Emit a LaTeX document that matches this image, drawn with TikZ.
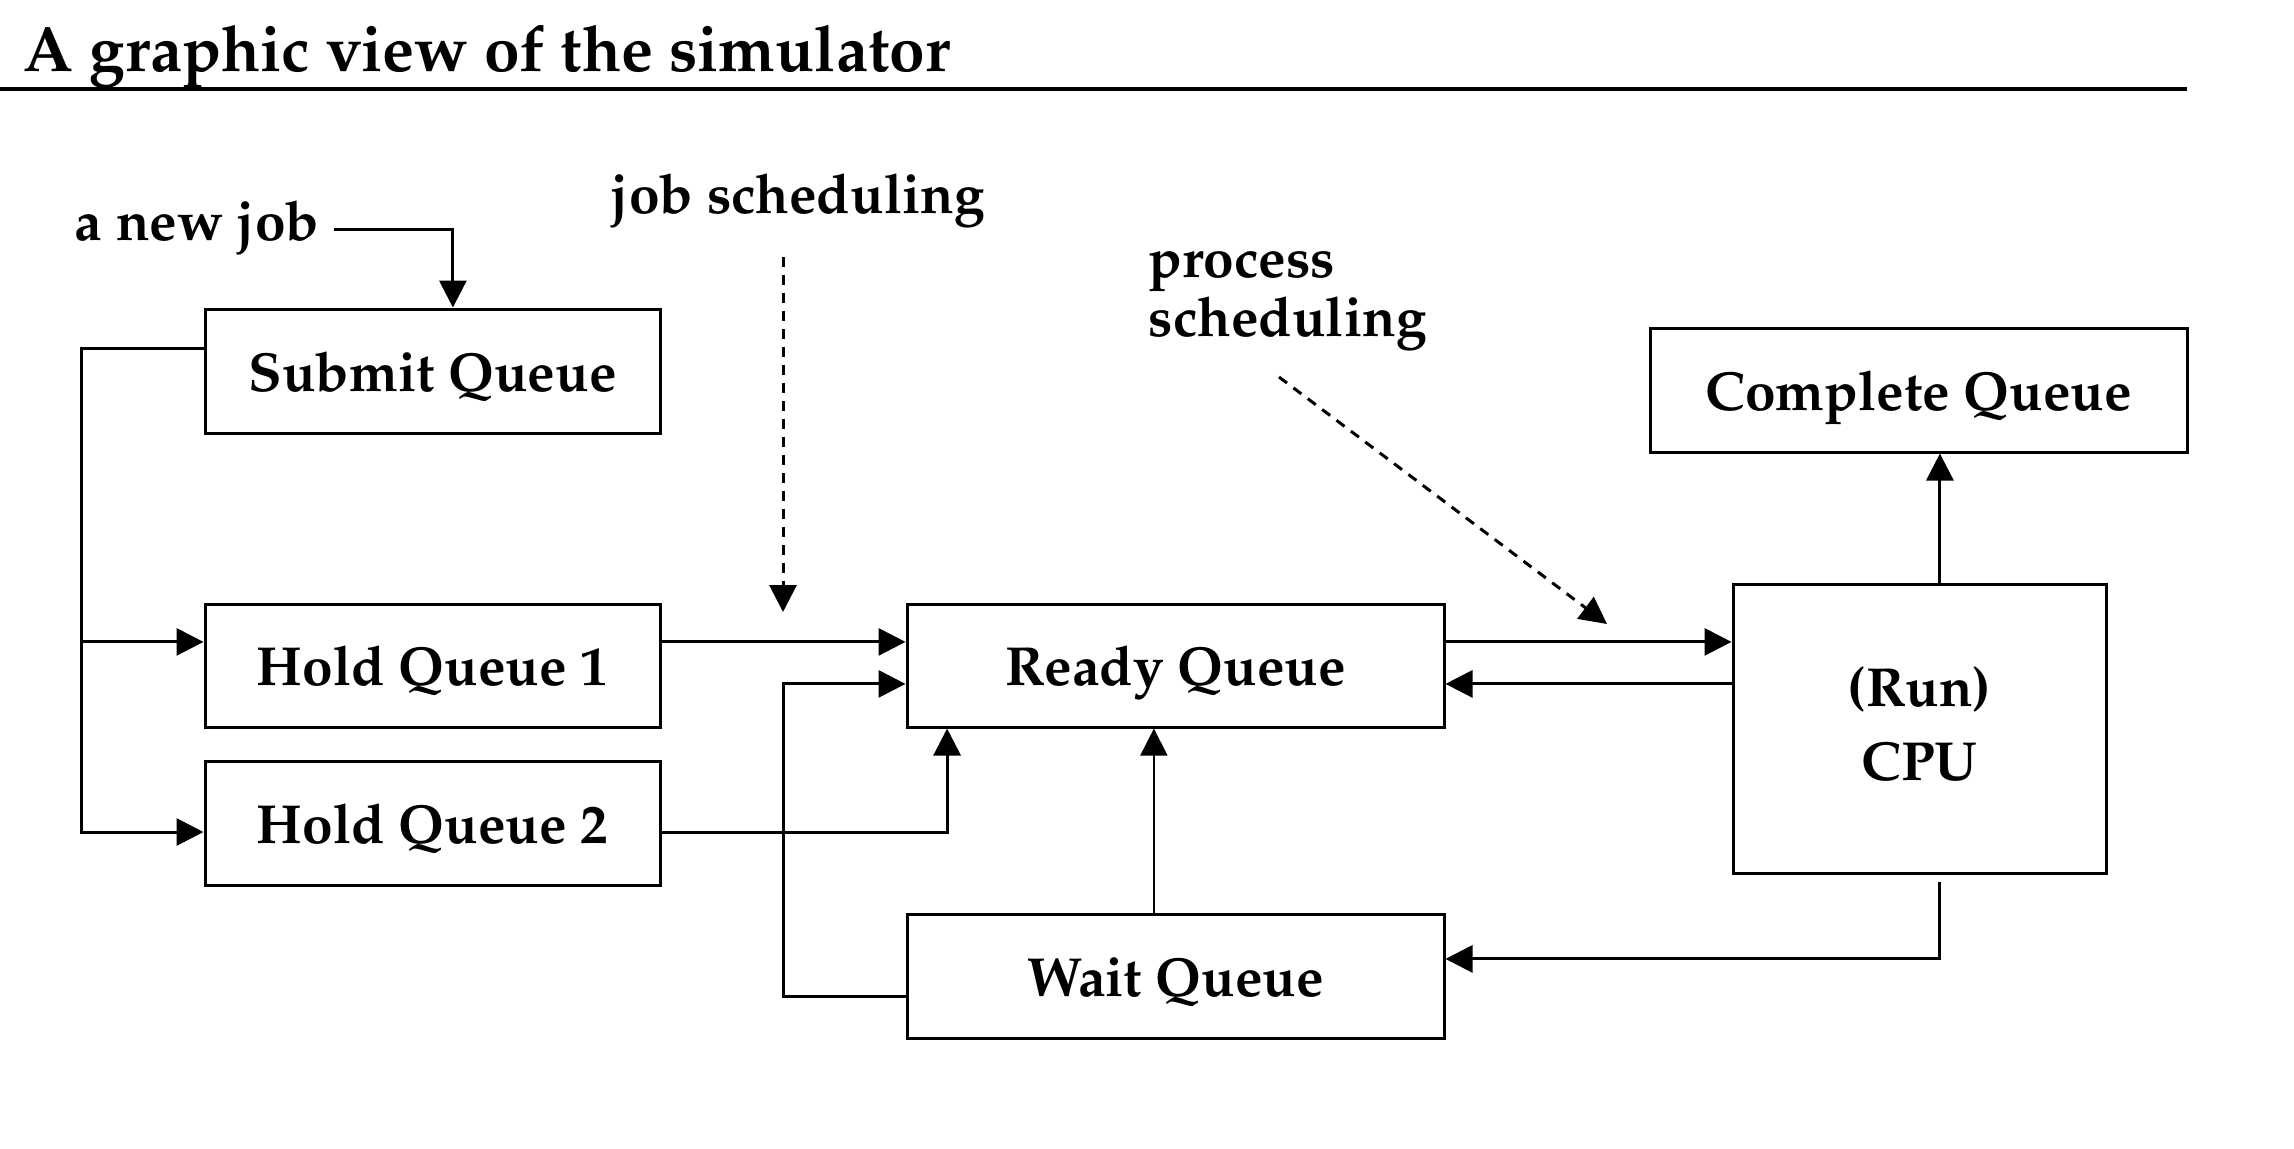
\documentclass[tikz,border=0pt]{standalone}
\usepackage[T1]{fontenc}
\renewcommand{\rmdefault}{ppl}
\usetikzlibrary{arrows.meta}
\newcommand{\boxfont}{\fontsize{13.75}{18.5}\selectfont\bfseries}
\begin{document}
\begin{tikzpicture}[x=0.25pt,y=-0.25pt,
  box/.style={draw,line width=0.75pt,inner sep=0pt,font=\boxfont,align=center},
  onebox/.style={box,text height=12pt,text depth=2pt},
  lbl/.style={inner sep=0pt,anchor=base west,font=\boxfont},
  conn/.style={line width=0.75pt},
  tip/.style={-{Triangle[length=6.75pt,width=6.75pt]}},
  arr/.style={conn,tip},
  thinarr/.style={line width=0.4pt,tip},
  darr/.style={line width=0.75pt,dash pattern=on 2.5pt off 2pt,tip}]
\useasboundingbox (0,0) rectangle (2294,1148);
% title
\node[inner sep=0pt,anchor=base west,font=\fontsize{16}{19}\selectfont\bfseries] (title) at (23,71) {A graphic view of the simulator};
\coordinate (ruleL) at (0,89);
\coordinate (ruleR) at (2187,89);
\draw[line width=0.9pt] (ruleL) -- (ruleR);
% boxes
\node[onebox,minimum width=113.75pt,minimum height=31pt] (submit) at (432.5,371) {Submit Queue};
\node[onebox,minimum width=113.75pt,minimum height=30.75pt] (hold1) at (432.5,665.5) {Hold Queue 1};
\node[onebox,minimum width=113.75pt,minimum height=31pt] (hold2) at (432.5,823) {Hold Queue 2};
\node[onebox,minimum width=134.25pt,minimum height=30.75pt] (ready) at (1175.5,665.5) {Ready Queue};
\node[onebox,minimum width=134.25pt,minimum height=31pt] (wait) at (1175.5,976.5) {Wait Queue};
\node[box,text depth=2.5pt,minimum width=93.25pt,minimum height=72.25pt] (cpu) at (1919.5,728.5) {(Run)\\CPU};
\node[onebox,minimum width=134.25pt,minimum height=31pt] (complete) at (1918.5,390) {Complete Queue};
% labels
\node[lbl] (newjob) at (74,240) {a new job};
\node[lbl] (jobsched) at (610,213) {job scheduling};
\node[lbl] (procA) at (1148,277) {process};
\node[lbl] (procB) at (1148,336) {scheduling};
% helper coordinates
\coordinate (bus) at (81,832);
\coordinate (jx) at (783,0);
\coordinate (h1in) at ([yshift=5.9pt]hold1.west);
\coordinate (r1in) at ([yshift=5.9pt]ready.west);
\coordinate (r2in) at ([yshift=-4.6pt]ready.west);
\coordinate (wout) at ([yshift=-5.1pt]wait.west);
\coordinate (js1) at (783,257);
\coordinate (js2) at (783,612);
\coordinate (ps1) at (1279,377);
\coordinate (ps2) at (1607,624);
% connectors
\draw[arr] ([shift={(3.5pt,2.75pt)}]newjob.base east) -| ([xshift=5.1pt]submit.north);
\draw[arr] ([yshift=5.75pt]submit.west) -| (bus) -- ([yshift=-2.25pt]hold2.west);
\draw[arr] (bus |- h1in) -- (h1in);
\draw[arr] (hold1.east |- r1in) -- (r1in);
\draw[arr] ([yshift=-2.25pt]hold2.east) -| ([xshift=-57.1pt]ready.south);
\draw[arr] (wout) -- (wout -| jx) |- (r2in);
\draw[thinarr] ([xshift=-5.4pt]wait.north) -- ([xshift=-5.4pt]ready.south);
\draw[arr] (ready.east |- r1in) -- (cpu.west |- r1in);
\draw[arr] (cpu.west |- r2in) -- (ready.east |- r2in);
\draw[arr] ([xshift=5.1pt]cpu.north) -- ([xshift=5.1pt]cpu.north |- complete.south);
\draw[arr] ([shift={(5.1pt,-1.75pt)}]cpu.south) |- ([yshift=4.4pt]wait.east);
\draw[darr] (js1) -- (js2);
\draw[darr] (ps1) -- (ps2);
\end{tikzpicture}
\end{document}
